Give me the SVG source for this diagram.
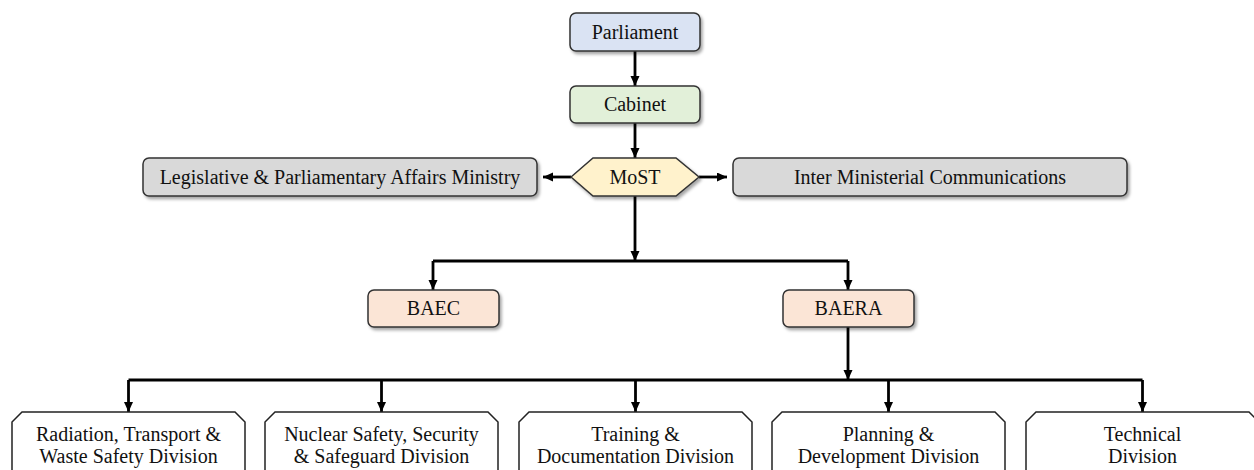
<svg xmlns="http://www.w3.org/2000/svg" width="1254" height="470" viewBox="0 0 1254 470">
<defs>
<filter id="sh" x="-10%" y="-20%" width="130%" height="160%">
<feDropShadow dx="2" dy="2.5" stdDeviation="1.5" flood-color="#000" flood-opacity="0.35"/>
</filter>
<marker id="ah" markerUnits="userSpaceOnUse" markerWidth="10" markerHeight="10" refX="10" refY="4.5" orient="auto">
<path d="M0,0 L10,4.5 L0,9 z" fill="#000"/>
</marker>
</defs>
<style>
text{font-family:"Liberation Serif","Times New Roman",serif;font-size:20px;fill:#111;text-anchor:middle}
.box{stroke:#333;stroke-width:1.5;filter:url(#sh)}
.div{fill:#fff;stroke:#222;stroke-width:1.5}
.c{fill:none;stroke:#000;stroke-width:2.8}
.a{marker-end:url(#ah)}
</style>
<g id="connectors">
<path class="c a" d="M635,51 V86"/>
<path class="c a" d="M635,123 V158"/>
<path class="c a" d="M571,177 H543"/>
<path class="c a" d="M699,177 H727"/>
<path class="c a" d="M635,196 V261"/>
<path class="c" d="M433,261 H848"/>
<path class="c a" d="M433,261 V290"/>
<path class="c a" d="M848,261 V290"/>
<path class="c a" d="M848,327 V380"/>
<path class="c" d="M128.5,380 H1142.5"/>
<path class="c a" d="M128.5,380 V412"/>
<path class="c a" d="M381.5,380 V412"/>
<path class="c a" d="M635.5,380 V412"/>
<path class="c a" d="M888.5,380 V412"/>
<path class="c a" d="M1142.5,380 V412"/>
</g>
<g id="parliament">
<rect class="box" x="570" y="13" width="130" height="38" rx="6" fill="#dae3f3"/>
<text x="635" y="39">Parliament</text>
</g>
<g id="cabinet">
<rect class="box" x="570" y="86" width="130" height="37" rx="6" fill="#e2f0d9"/>
<text x="635" y="111">Cabinet</text>
</g>
<g id="most">
<polygon class="box" points="571,177 593,158 676,158 699,177 676,196 593,196" fill="#fff2cc"/>
<text x="635" y="184">MoST</text>
</g>
<g id="legislative">
<rect class="box" x="143" y="158" width="394" height="38" rx="6" fill="#d9d9d9"/>
<text x="340" y="184">Legislative &amp; Parliamentary Affairs Ministry</text>
</g>
<g id="inter">
<rect class="box" x="733" y="158" width="394" height="38" rx="6" fill="#d9d9d9"/>
<text x="930" y="184">Inter Ministerial Communications</text>
</g>
<g id="baec">
<rect class="box" x="368" y="290" width="131" height="37" rx="6" fill="#fbe5d6"/>
<text x="433.5" y="315">BAEC</text>
</g>
<g id="baera">
<rect class="box" x="783" y="290" width="131" height="37" rx="6" fill="#fbe5d6"/>
<text x="848.5" y="315">BAERA</text>
</g>
<g id="div1">
<path class="div" d="M12,480 V422 L22,412 H235 L245,422 V480"/>
<text x="128.5" y="441">Radiation, Transport &amp;</text>
<text x="128.5" y="463">Waste Safety Division</text>
</g>
<g id="div2">
<path class="div" d="M265,480 V422 L275,412 H488 L498,422 V480"/>
<text x="381.5" y="441">Nuclear Safety, Security</text>
<text x="381.5" y="463">&amp; Safeguard Division</text>
</g>
<g id="div3">
<path class="div" d="M519,480 V422 L529,412 H742 L752,422 V480"/>
<text x="635.5" y="441">Training &amp;</text>
<text x="635.5" y="463">Documentation Division</text>
</g>
<g id="div4">
<path class="div" d="M772,480 V422 L782,412 H995 L1005,422 V480"/>
<text x="888.5" y="441">Planning &amp;</text>
<text x="888.5" y="463">Development Division</text>
</g>
<g id="div5">
<path class="div" d="M1026,480 V422 L1036,412 H1249 L1259,422 V480"/>
<text x="1142.5" y="441">Technical</text>
<text x="1142.5" y="463">Division</text>
</g>
</svg>
